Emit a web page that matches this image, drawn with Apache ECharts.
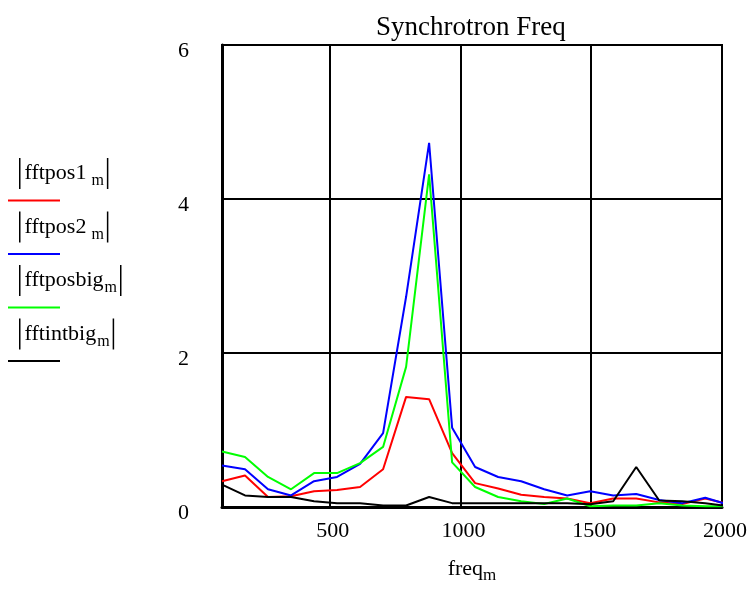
<!DOCTYPE html>
<html>
<head>
<meta charset="utf-8">
<script src="https://cdn.jsdelivr.net/npm/echarts@6/dist/echarts.min.js"></script>
<style>
html,body{margin:0;padding:0;background:#fff;}
#chart{width:752px;height:589px;}
</style>
</head>
<body>
<div id="chart"></div>
<script>
// Frequencies (freq_m), spacing ~88
var freq = [88,176,264,352,440,528,616,704,792,880,968,1056,1144,1232,1320,1408,1496,1584,1672,1760,1848,1936,2024];
var fftpos1   = [0.335,0.41,0.13,0.14,0.205,0.22,0.26,0.49,1.43,1.40,0.70,0.31,0.24,0.16,0.13,0.11,0.05,0.11,0.11,0.06,0.04,0.11,0.04];
var fftpos2   = [0.54,0.49,0.23,0.15,0.335,0.39,0.56,0.96,2.73,4.73,1.03,0.52,0.39,0.335,0.23,0.15,0.205,0.15,0.17,0.09,0.05,0.12,0.03];
var fftposbig = [0.72,0.65,0.39,0.23,0.44,0.44,0.57,0.78,1.82,4.32,0.58,0.26,0.13,0.075,0.04,0.11,0.01,0.02,0.02,0.05,0.02,0.01,0.01];
var fftintbig = [0.29,0.15,0.13,0.13,0.075,0.05,0.05,0.02,0.02,0.13,0.05,0.05,0.05,0.05,0.05,0.05,0.035,0.075,0.52,0.085,0.075,0.05,0.01];
var seriesNames = ['fftpos1','fftpos2','fftposbig','fftintbig'];
var seriesSubs  = [' m',' m','m','m'];
var seriesColors = ['#ff0000','#0000ff','#00ff00','#000000'];
var yTicks = [0,2,4,6];

var FONT = 'Liberation Serif';
function pairs(vals){ return freq.map(function(f,i){ return [f, vals[i]]; }); }
var allVals = [fftpos1, fftpos2, fftposbig, fftintbig];

var rich = {
  sp: {width: 11, height: 2},
  v: {width: 1.5, height: 31, lineHeight: 31, backgroundColor: '#000'},
  t: {fontFamily: FONT, fontSize: 22, color: '#000', padding: [0, 1, 0, 4], verticalAlign: 'middle'},
  s: {fontFamily: FONT, fontSize: 16, color: '#000', verticalAlign: 'bottom', padding: [0, 3, 0, 0]}
};
seriesColors.forEach(function(c, i){
  rich['l' + i] = {width: 52, height: 2, lineHeight: 23, backgroundColor: c};
});

var chart = echarts.init(document.getElementById('chart'), null, {renderer: 'canvas'});
chart.setOption({
  animation: false,
  backgroundColor: '#fff',
  title: {
    text: 'Synchrotron Freq',
    left: 371, top: 9,
    textStyle: {fontFamily: FONT, fontSize: 27, fontWeight: 'normal', color: '#000'}
  },
  legend: {
    orient: 'vertical',
    left: 3, top: 158,
    padding: 0,
    itemGap: 0,
    itemWidth: 0,
    itemHeight: 14,
    icon: 'none',
    selectedMode: false,
    data: seriesNames,
    formatter: function(name){
      var i = seriesNames.indexOf(name);
      return '{sp|}{v|}{t|' + name + '}{s|' + seriesSubs[i] + '}{v|}\n{l' + i + '|}';
    },
    textStyle: {rich: rich, fontFamily: FONT, fontSize: 22, color: '#000'}
  },
  grid: {
    left: 222, right: 30, top: 45, bottom: 82,
    containLabel: false, outerBoundsMode: 'none',
    show: true, borderColor: '#000', borderWidth: 2
  },
  xAxis: {
    type: 'value',
    min: 88, max: 2000, splitNumber: 4,
    name: '{a|freq}{b|m}',
    nameLocation: 'middle',
    nameGap: 47,
    nameTextStyle: {rich: {
      a: {fontFamily: FONT, fontSize: 22, color: '#000', verticalAlign: 'middle'},
      b: {fontFamily: FONT, fontSize: 17, color: '#000', verticalAlign: 'bottom'}
    }, lineHeight: 30},
    axisLine: {show: true, lineStyle: {color: '#000', width: 3}},
    axisTick: {show: false},
    axisLabel: {
      showMinLabel: false, fontFamily: FONT, fontSize: 22, color: '#000', margin: 13, padding: [0, 0, 0, 6],
      formatter: function(v){ return String(Math.round(v)); }
    },
    splitLine: {show: true, lineStyle: {color: '#000', width: 2}}
  },
  yAxis: {
    type: 'value',
    min: yTicks[0], max: yTicks[yTicks.length - 1], interval: 2,
    axisLine: {show: true, lineStyle: {color: '#000', width: 3}},
    axisTick: {show: false},
    axisLabel: {
      fontFamily: FONT, fontSize: 22, color: '#000', margin: 33,
      verticalAlign: 'top', lineHeight: 12,
      formatter: function(v){ return String(v); }
    },
    splitLine: {show: true, lineStyle: {color: '#000', width: 2}}
  },
  series: seriesNames.map(function(n, i){
    return {
      name: n, type: 'line', data: pairs(allVals[i]),
      symbol: 'none', clip: true,
      lineStyle: {color: seriesColors[i], width: 2},
      itemStyle: {color: seriesColors[i]}
    };
  })
});
</script>
</body>
</html>
